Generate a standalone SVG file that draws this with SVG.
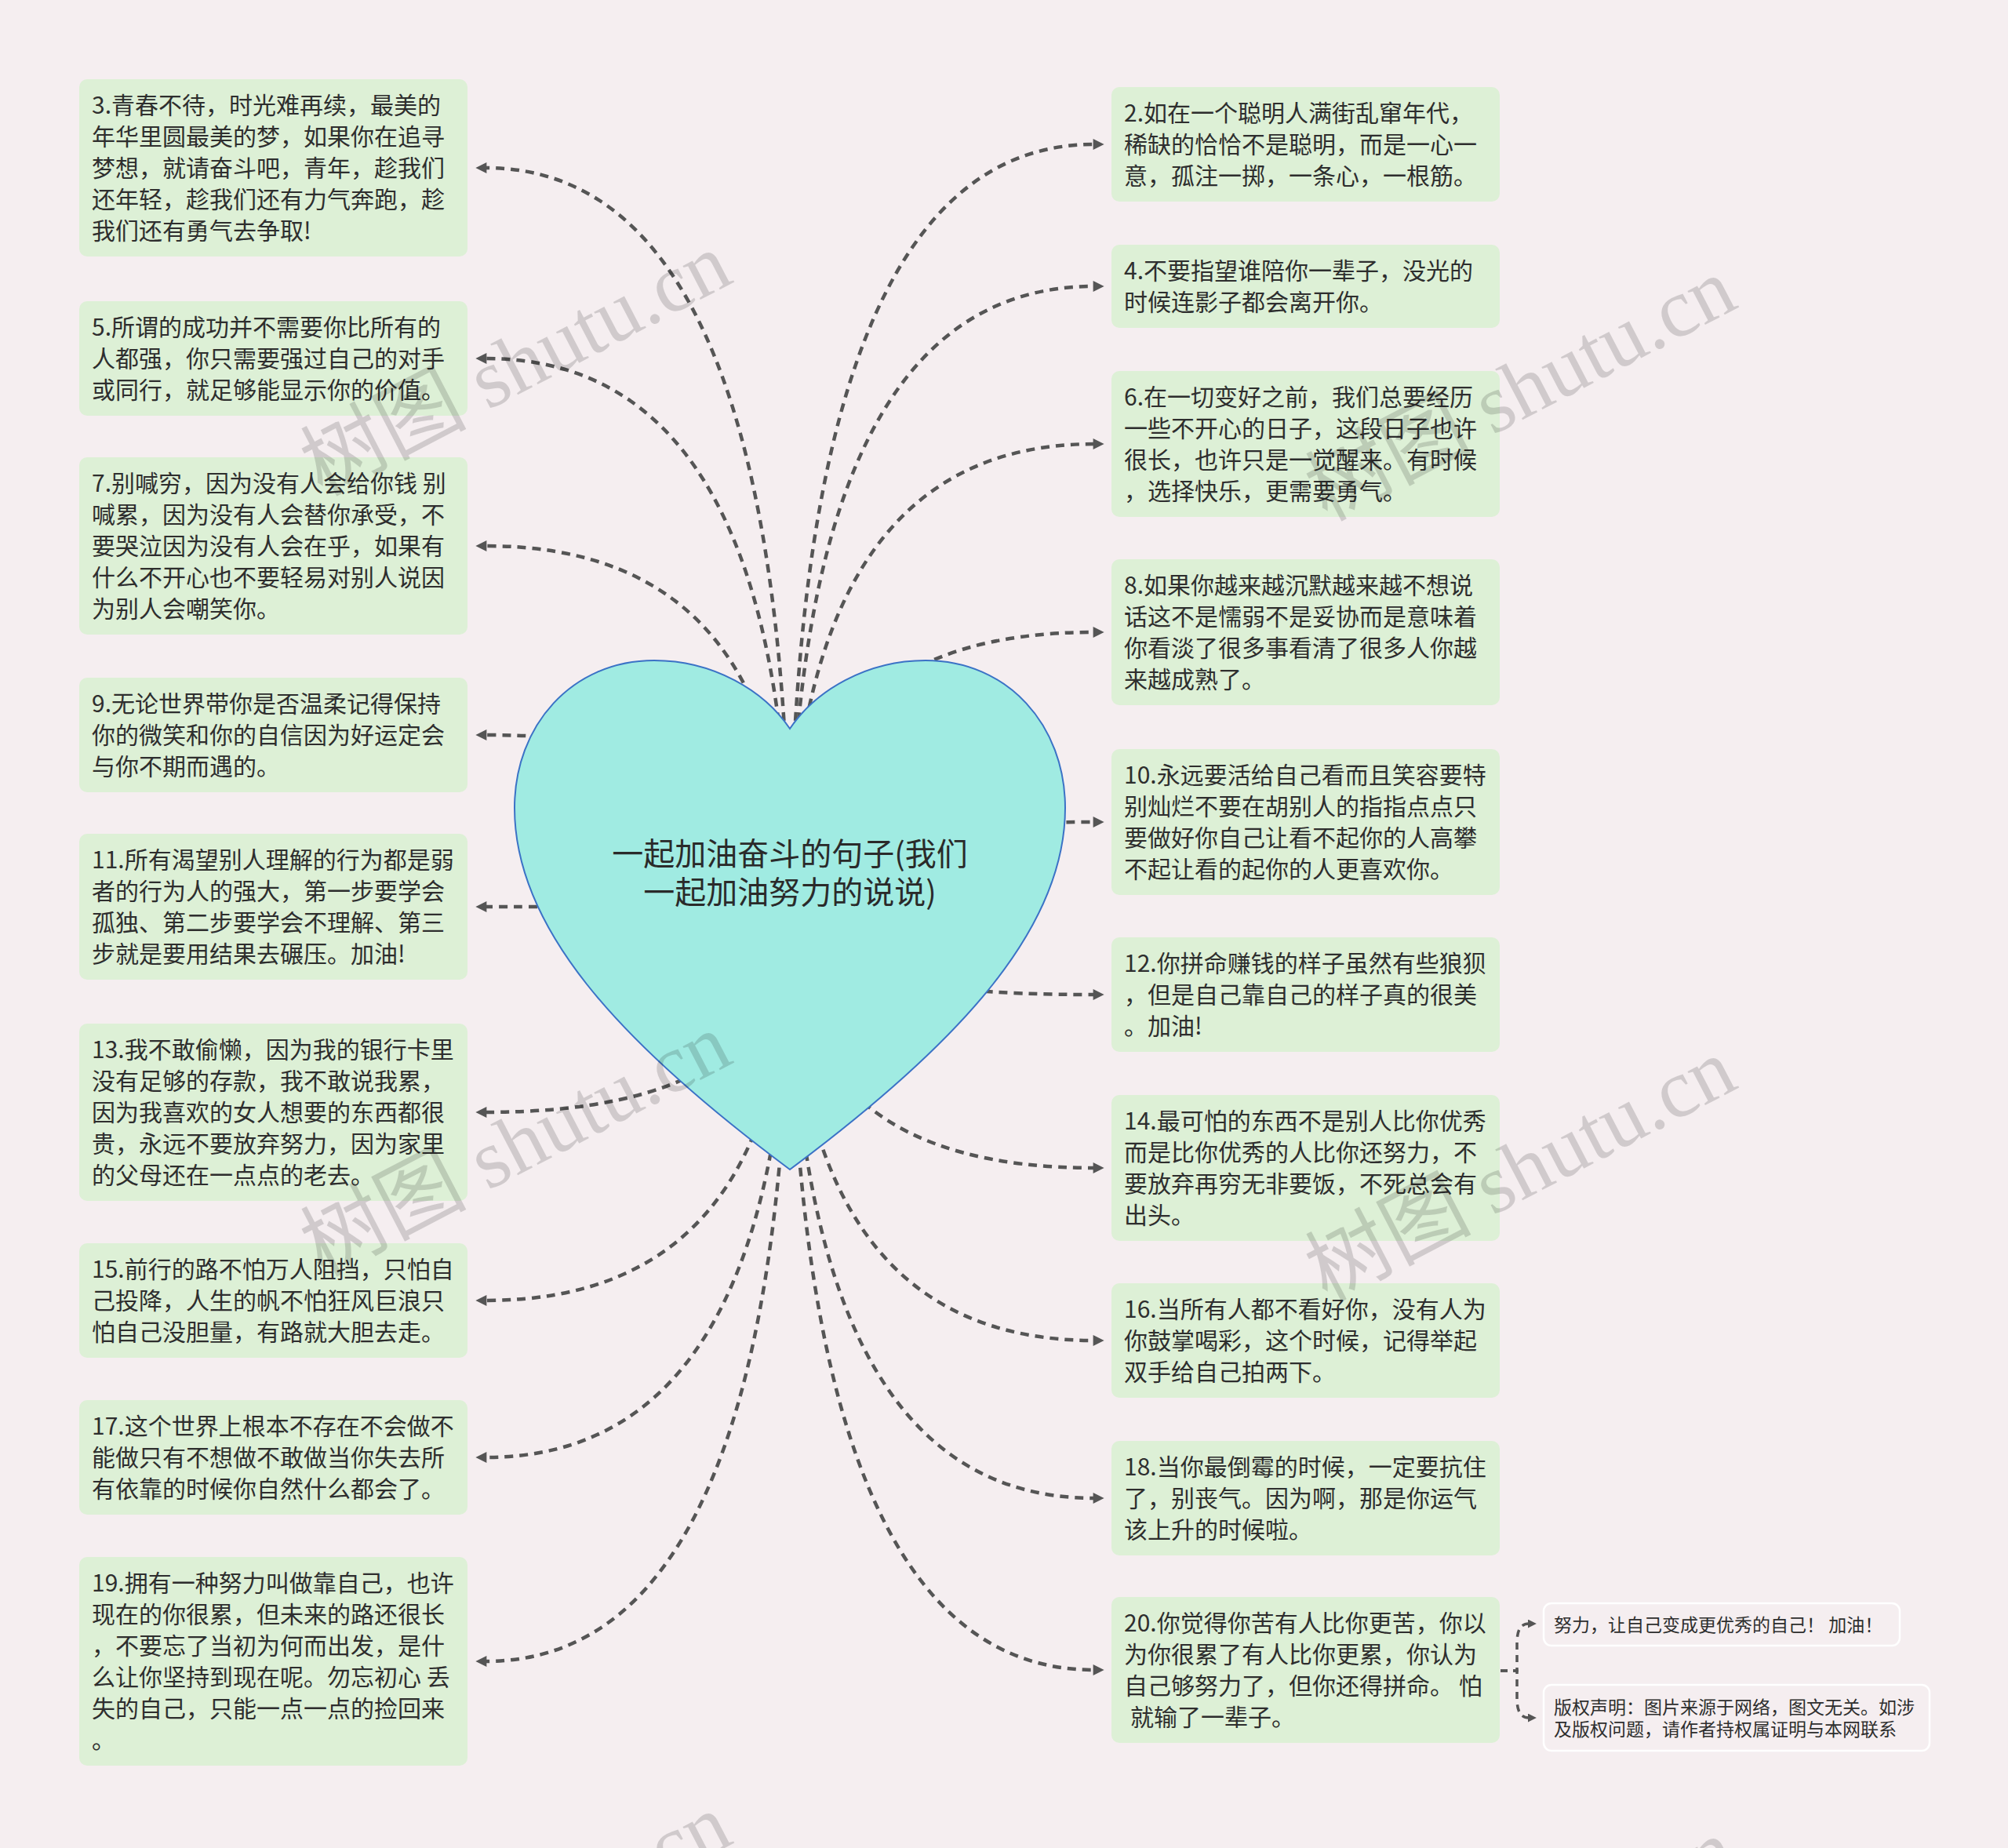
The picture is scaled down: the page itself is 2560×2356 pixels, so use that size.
<svg xmlns="http://www.w3.org/2000/svg" width="2560" height="2356" viewBox="0 0 2560 2356">
<style>
.bg{fill:#f5eef0}
.box{fill:#ddf0d6}
.sbox{fill:#f5eef0;stroke:#ffffff;stroke-width:2.5}
.t{font-family:"Noto Sans CJK SC","Noto Sans",sans-serif;font-size:30px;fill:#2e2e2e}
.st{font-family:"Noto Sans CJK SC","Noto Sans",sans-serif;font-size:23px;fill:#2e2e2e}
.title{font-family:"Noto Sans CJK SC","Noto Sans",sans-serif;font-size:40px;fill:#2a2a2a;text-anchor:middle}
.c{fill:none;stroke:#555555;stroke-width:4.5;stroke-dasharray:11 8}
.cs{fill:none;stroke:#555555;stroke-width:3.5;stroke-dasharray:9 7}
.wm{font-family:"Liberation Serif","Noto Sans CJK SC",serif;font-size:106px;fill:#000000;fill-opacity:0.15}
</style>
<defs>
<marker id="ah" viewBox="0 0 10 10" refX="1" refY="5" markerUnits="userSpaceOnUse" markerWidth="16" markerHeight="14" orient="auto"><path d="M0,0 L10,5 L0,10 z" fill="#555555"/></marker>
<marker id="ahs" viewBox="0 0 10 10" refX="1" refY="5" markerUnits="userSpaceOnUse" markerWidth="11" markerHeight="11" orient="auto"><path d="M0,0 L10,5 L0,10 z" fill="#555555"/></marker>
</defs>
<rect class="bg" x="0" y="0" width="2560" height="2356"/>

<g id="connectors">
<path class="c" marker-end="url(#ah)" d="M1007 1166 Q1007 214 619 214"/>
<path class="c" marker-end="url(#ah)" d="M1007 1166 Q1007 457 619 457"/>
<path class="c" marker-end="url(#ah)" d="M1007 1166 Q1007 696 619 696"/>
<path class="c" marker-end="url(#ah)" d="M1007 1166 Q1007 937 619 937"/>
<path class="c" marker-end="url(#ah)" d="M1007 1166 Q1007 1156 619 1156"/>
<path class="c" marker-end="url(#ah)" d="M1007 1166 Q1007 1418 619 1418"/>
<path class="c" marker-end="url(#ah)" d="M1007 1166 Q1007 1658 619 1658"/>
<path class="c" marker-end="url(#ah)" d="M1007 1166 Q1007 1858 619 1858"/>
<path class="c" marker-end="url(#ah)" d="M1007 1166 Q1007 2118 619 2118"/>
<path class="c" marker-end="url(#ah)" d="M1007 1166 Q1007 184 1395 184"/>
<path class="c" marker-end="url(#ah)" d="M1007 1166 Q1007 365 1395 365"/>
<path class="c" marker-end="url(#ah)" d="M1007 1166 Q1007 566 1395 566"/>
<path class="c" marker-end="url(#ah)" d="M1007 1166 Q1007 806 1395 806"/>
<path class="c" marker-end="url(#ah)" d="M1007 1166 Q1007 1048 1395 1048"/>
<path class="c" marker-end="url(#ah)" d="M1007 1166 Q1007 1268 1395 1268"/>
<path class="c" marker-end="url(#ah)" d="M1007 1166 Q1007 1489 1395 1489"/>
<path class="c" marker-end="url(#ah)" d="M1007 1166 Q1007 1709 1395 1709"/>
<path class="c" marker-end="url(#ah)" d="M1007 1166 Q1007 1910 1395 1910"/>
<path class="c" marker-end="url(#ah)" d="M1007 1166 Q1007 2129 1395 2129"/>
<path class="cs" marker-end="url(#ahs)" d="M1913 2130 L1934 2130 L1934 2094 Q1934 2070 1949 2070"/>
<path class="cs" marker-end="url(#ahs)" d="M1913 2130 L1934 2130 L1934 2166 Q1934 2190 1949 2190"/>
</g>

<g id="root">
<path d="M1007 929 C1040 880 1105 842 1180 842 C1285 842 1358 925 1358 1030 C1358 1180 1230 1325 1007 1491 C784 1325 656 1180 656 1030 C656 925 729 842 834 842 C909 842 974 880 1007 929 Z" fill="#a0ebe2" stroke="#3b72c6" stroke-width="2"/>
<text class="title"><tspan x="1007" y="1103">一起加油奋斗的句子(我们</tspan><tspan x="1007" y="1152">一起加油努力的说说)</tspan></text>
</g>

<g id="n3"><rect class="box" x="101" y="101" width="495" height="226" rx="10"/>
<text class="t"><tspan x="117" y="145">3.青春不待，时光难再续，最美的</tspan><tspan x="117" y="185">年华里圆最美的梦，如果你在追寻</tspan><tspan x="117" y="225">梦想，就请奋斗吧，青年，趁我们</tspan><tspan x="117" y="265">还年轻，趁我们还有力气奔跑，趁</tspan><tspan x="117" y="305">我们还有勇气去争取!</tspan></text></g>

<g id="n5"><rect class="box" x="101" y="384" width="495" height="146" rx="10"/>
<text class="t"><tspan x="117" y="428">5.所谓的成功并不需要你比所有的</tspan><tspan x="117" y="468">人都强，你只需要强过自己的对手</tspan><tspan x="117" y="508">或同行，就足够能显示你的价值。</tspan></text></g>

<g id="n7"><rect class="box" x="101" y="583" width="495" height="226" rx="10"/>
<text class="t"><tspan x="117" y="627">7.别喊穷，因为没有人会给你钱 别</tspan><tspan x="117" y="667">喊累，因为没有人会替你承受，不</tspan><tspan x="117" y="707">要哭泣因为没有人会在乎，如果有</tspan><tspan x="117" y="747">什么不开心也不要轻易对别人说因</tspan><tspan x="117" y="787">为别人会嘲笑你。</tspan></text></g>

<g id="n9"><rect class="box" x="101" y="864" width="495" height="146" rx="10"/>
<text class="t"><tspan x="117" y="908">9.无论世界带你是否温柔记得保持</tspan><tspan x="117" y="948">你的微笑和你的自信因为好运定会</tspan><tspan x="117" y="988">与你不期而遇的。</tspan></text></g>

<g id="n11"><rect class="box" x="101" y="1063" width="495" height="186" rx="10"/>
<text class="t"><tspan x="117" y="1107">11.所有渴望别人理解的行为都是弱</tspan><tspan x="117" y="1147">者的行为人的强大，第一步要学会</tspan><tspan x="117" y="1187">孤独、第二步要学会不理解、第三</tspan><tspan x="117" y="1227">步就是要用结果去碾压。加油!</tspan></text></g>

<g id="n13"><rect class="box" x="101" y="1305" width="495" height="226" rx="10"/>
<text class="t"><tspan x="117" y="1349">13.我不敢偷懒，因为我的银行卡里</tspan><tspan x="117" y="1389">没有足够的存款，我不敢说我累，</tspan><tspan x="117" y="1429">因为我喜欢的女人想要的东西都很</tspan><tspan x="117" y="1469">贵，永远不要放弃努力，因为家里</tspan><tspan x="117" y="1509">的父母还在一点点的老去。</tspan></text></g>

<g id="n15"><rect class="box" x="101" y="1585" width="495" height="146" rx="10"/>
<text class="t"><tspan x="117" y="1629">15.前行的路不怕万人阻挡，只怕自</tspan><tspan x="117" y="1669">己投降，人生的帆不怕狂风巨浪只</tspan><tspan x="117" y="1709">怕自己没胆量，有路就大胆去走。</tspan></text></g>

<g id="n17"><rect class="box" x="101" y="1785" width="495" height="146" rx="10"/>
<text class="t"><tspan x="117" y="1829">17.这个世界上根本不存在不会做不</tspan><tspan x="117" y="1869">能做只有不想做不敢做当你失去所</tspan><tspan x="117" y="1909">有依靠的时候你自然什么都会了。</tspan></text></g>

<g id="n19"><rect class="box" x="101" y="1985" width="495" height="266" rx="10"/>
<text class="t"><tspan x="117" y="2029">19.拥有一种努力叫做靠自己，也许</tspan><tspan x="117" y="2069">现在的你很累，但未来的路还很长</tspan><tspan x="117" y="2109">，不要忘了当初为何而出发，是什</tspan><tspan x="117" y="2149">么让你坚持到现在呢。勿忘初心 丢</tspan><tspan x="117" y="2189">失的自己，只能一点一点的捡回来</tspan><tspan x="117" y="2229">。</tspan></text></g>

<g id="n2"><rect class="box" x="1417" y="111" width="495" height="146" rx="10"/>
<text class="t"><tspan x="1433" y="155">2.如在一个聪明人满街乱窜年代，</tspan><tspan x="1433" y="195">稀缺的恰恰不是聪明，而是一心一</tspan><tspan x="1433" y="235">意，孤注一掷，一条心，一根筋。</tspan></text></g>

<g id="n4"><rect class="box" x="1417" y="312" width="495" height="106" rx="10"/>
<text class="t"><tspan x="1433" y="356">4.不要指望谁陪你一辈子，没光的</tspan><tspan x="1433" y="396">时候连影子都会离开你。</tspan></text></g>

<g id="n6"><rect class="box" x="1417" y="473" width="495" height="186" rx="10"/>
<text class="t"><tspan x="1433" y="517">6.在一切变好之前，我们总要经历</tspan><tspan x="1433" y="557">一些不开心的日子，这段日子也许</tspan><tspan x="1433" y="597">很长，也许只是一觉醒来。有时候</tspan><tspan x="1433" y="637">，选择快乐，更需要勇气。</tspan></text></g>

<g id="n8"><rect class="box" x="1417" y="713" width="495" height="186" rx="10"/>
<text class="t"><tspan x="1433" y="757">8.如果你越来越沉默越来越不想说</tspan><tspan x="1433" y="797">话这不是懦弱不是妥协而是意味着</tspan><tspan x="1433" y="837">你看淡了很多事看清了很多人你越</tspan><tspan x="1433" y="877">来越成熟了。</tspan></text></g>

<g id="n10"><rect class="box" x="1417" y="955" width="495" height="186" rx="10"/>
<text class="t"><tspan x="1433" y="999">10.永远要活给自己看而且笑容要特</tspan><tspan x="1433" y="1039">别灿烂不要在胡别人的指指点点只</tspan><tspan x="1433" y="1079">要做好你自己让看不起你的人高攀</tspan><tspan x="1433" y="1119">不起让看的起你的人更喜欢你。</tspan></text></g>

<g id="n12"><rect class="box" x="1417" y="1195" width="495" height="146" rx="10"/>
<text class="t"><tspan x="1433" y="1239">12.你拼命赚钱的样子虽然有些狼狈</tspan><tspan x="1433" y="1279">，但是自己靠自己的样子真的很美</tspan><tspan x="1433" y="1319">。加油!</tspan></text></g>

<g id="n14"><rect class="box" x="1417" y="1396" width="495" height="186" rx="10"/>
<text class="t"><tspan x="1433" y="1440">14.最可怕的东西不是别人比你优秀</tspan><tspan x="1433" y="1480">而是比你优秀的人比你还努力，不</tspan><tspan x="1433" y="1520">要放弃再穷无非要饭，不死总会有</tspan><tspan x="1433" y="1560">出头。</tspan></text></g>

<g id="n16"><rect class="box" x="1417" y="1636" width="495" height="146" rx="10"/>
<text class="t"><tspan x="1433" y="1680">16.当所有人都不看好你，没有人为</tspan><tspan x="1433" y="1720">你鼓掌喝彩，这个时候，记得举起</tspan><tspan x="1433" y="1760">双手给自己拍两下。</tspan></text></g>

<g id="n18"><rect class="box" x="1417" y="1837" width="495" height="146" rx="10"/>
<text class="t"><tspan x="1433" y="1881">18.当你最倒霉的时候，一定要抗住</tspan><tspan x="1433" y="1921">了，别丧气。因为啊，那是你运气</tspan><tspan x="1433" y="1961">该上升的时候啦。</tspan></text></g>

<g id="n20"><rect class="box" x="1417" y="2036" width="495" height="186" rx="10"/>
<text class="t"><tspan x="1433" y="2080">20.你觉得你苦有人比你更苦，你以</tspan><tspan x="1433" y="2120">为你很累了有人比你更累，你认为</tspan><tspan x="1433" y="2160">自己够努力了，但你还得拼命。 怕</tspan><tspan x="1441" y="2200">就输了一辈子。</tspan></text></g>

<g id="n20a"><rect class="sbox" x="1968" y="2044" width="454" height="54" rx="10"/>
<text class="st"><tspan x="1981" y="2080">努力，让自己变成更优秀的自己！ 加油！</tspan></text></g>

<g id="n20b"><rect class="sbox" x="1968" y="2148" width="492" height="84" rx="10"/>
<text class="st"><tspan x="1981" y="2185">版权声明：图片来源于网络，图文无关。如涉</tspan><tspan x="1981" y="2213">及版权问题，请作者持权属证明与本网联系</tspan></text></g>

<g id="watermarks">
<text class="wm" text-anchor="middle" transform="translate(674 496) rotate(-27.5)">树图 shutu.cn</text>
<text class="wm" text-anchor="middle" transform="translate(1955 528) rotate(-27.5)">树图 shutu.cn</text>
<text class="wm" text-anchor="middle" transform="translate(674 1491) rotate(-27.5)">树图 shutu.cn</text>
<text class="wm" text-anchor="middle" transform="translate(1955 1523) rotate(-27.5)">树图 shutu.cn</text>
<text class="wm" text-anchor="middle" transform="translate(674 2486) rotate(-27.5)">树图 shutu.cn</text>
<text class="wm" text-anchor="middle" transform="translate(1955 2518) rotate(-27.5)">树图 shutu.cn</text>
</g>
</svg>
